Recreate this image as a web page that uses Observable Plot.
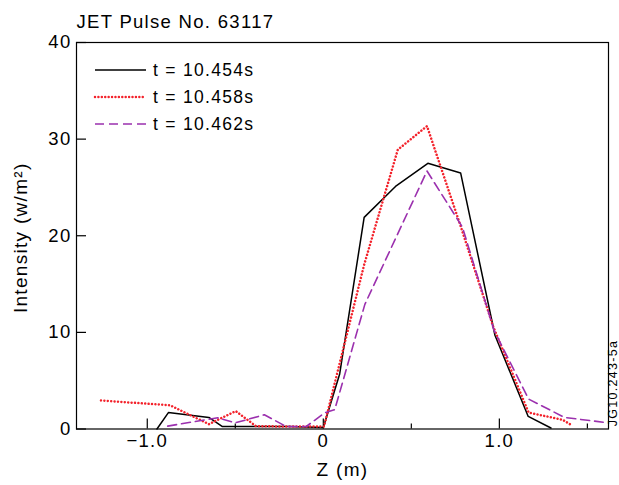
<!DOCTYPE html>
<html><head><meta charset="utf-8">
<script src="https://cdn.jsdelivr.net/npm/d3@7"></script>
<script src="https://cdn.jsdelivr.net/npm/@observablehq/plot@0.6"></script>
<style>
body{margin:0;background:#fff;}
#chart svg{font-family:"Liberation Sans",Arial,Helvetica,sans-serif;letter-spacing:1.3px;}
</style></head><body><div id="chart"></div>
<script>
const title = "JET Pulse No. 63117";
const seriesNames = ["t = 10.454s", "t = 10.458s", "t = 10.462s"];
const xLabel = "Z (m)";
const yLabel = "Intensity (w/m²)";
const figId = "JG10.243-5a";

const z454 = [-0.945, -0.88, -0.65, -0.573, -0.38, -0.2, 0.0, 0.093, 0.232, 0.41, 0.594, 0.78, 0.975, 1.164, 1.293];
const v454 = [0.0, 1.7, 1.2, 0.25, 0.25, 0.25, 0.15, 5.7, 21.9, 25.1, 27.5, 26.5, 9.7, 1.3, 0.1];

const z458 = [-1.263, -0.87, -0.65, -0.497, -0.383, -0.2, 0.004, 0.093, 0.232, 0.423, 0.589, 0.78, 0.965, 1.166, 1.36, 1.41];
const v458 = [2.95, 2.45, 0.5, 1.85, 0.3, 0.25, 0.25, 6.8, 17.0, 28.9, 31.35, 21.0, 10.6, 1.7, 0.95, 0.4];

const z462 = [-0.884, -0.6, -0.5, -0.335, -0.211, -0.097, 0.01, 0.065, 0.236, 0.589, 0.79, 0.97, 1.166, 1.37, 1.59];
const v462 = [0.3, 1.16, 0.64, 1.47, 0.26, 0.26, 1.7, 2.0, 12.9, 26.7, 20.9, 10.2, 3.1, 1.2, 0.7];

const xMajorTicks = [-1, 0, 1];
const xMajorLabels = ["−1.0", "0", "1.0"];
const xMinorTicks = [-0.5, 0.5, 1.5];
const yTicks = [0, 10, 20, 30, 40];

const xLabelMap = new Map(xMajorTicks.map((t, i) => [t, xMajorLabels[i]]));
const toRows = (zs, vs) => zs.map((z, i) => ({z, v: vs[i]}));
const seriesData = [toRows(z454, v454), toRows(z458, v458), toRows(z462, v462)];
const styles = [
  {stroke: "#000000", strokeWidth: 1.5},
  {stroke: "#f3222b", strokeWidth: 2.5, strokeDasharray: "0.01,3.4", strokeLinecap: "round"},
  {stroke: "#9b30ae", strokeWidth: 1.6, strokeDasharray: "9,5"}
];

const plot = Plot.plot({
  width: 619, height: 485,
  marginTop: 42, marginLeft: 76, marginRight: 11, marginBottom: 56.5,
  x: {domain: [-1.402, 1.620], label: null},
  y: {domain: [0, 40], label: null},
  style: {fontSize: "18px", color: "#000", background: "#fff", overflow: "visible"},
  marks: [
    Plot.frame({stroke: "#000", strokeWidth: 1.2}),
    Plot.axisX(xMajorTicks, {tickSize: 10, dy: -10, text: null, strokeWidth: 1.2}),
    Plot.axisX(xMinorTicks, {tickSize: 5, dy: -5, text: null, strokeWidth: 1.2}),
    Plot.axisX(xMajorTicks, {tickSize: 0, tickPadding: 5, tickFormat: d => xLabelMap.get(d), fontSize: 18.5}),
    Plot.axisY(yTicks, {tickSize: 10, dx: 10, text: null, strokeWidth: 1.2}),
    Plot.axisY(yTicks, {tickSize: 0, tickPadding: 5, fontSize: 18.5}),
    ...seriesData.map((rows, i) => Plot.line(rows, {x: "z", y: "v", ...styles[i]})),
    Plot.text([title], {frameAnchor: "top-left", textAnchor: "start", lineAnchor: "middle", dy: -20.5, fontSize: 18.5}),
    Plot.text([xLabel], {frameAnchor: "bottom", textAnchor: "middle", lineAnchor: "middle", dy: 41, fontSize: 19}),
    Plot.text([yLabel], {frameAnchor: "left", rotate: -90, textAnchor: "middle", lineAnchor: "top", dx: -63, dy: 2, fontSize: 19}),
    Plot.text([figId], {frameAnchor: "bottom-right", rotate: -90, textAnchor: "middle", lineAnchor: "middle", dx: 4, dy: -46, fontSize: 12.5, letterSpacing: "0.5px"})
  ]
});

// legend
const svg = d3.select(plot);
const legendY = [70, 97, 124];
const lg = svg.append("g").attr("text-anchor", "start");
seriesNames.forEach((name, i) => {
  const s = styles[i];
  lg.append("line")
    .attr("x1", 95).attr("x2", 146).attr("y1", legendY[i]).attr("y2", legendY[i])
    .attr("stroke", s.stroke).attr("stroke-width", s.strokeWidth)
    .attr("stroke-linecap", s.strokeLinecap || null)
    .attr("stroke-dasharray", s.strokeDasharray || null);
  lg.append("text")
    .attr("x", 153).attr("y", legendY[i]).attr("dy", "0.36em")
    .attr("text-anchor", "start")
    .attr("font-size", 17.5).attr("fill", "#000")
    .text(name);
});

document.getElementById("chart").appendChild(plot);
</script>
</body></html>
